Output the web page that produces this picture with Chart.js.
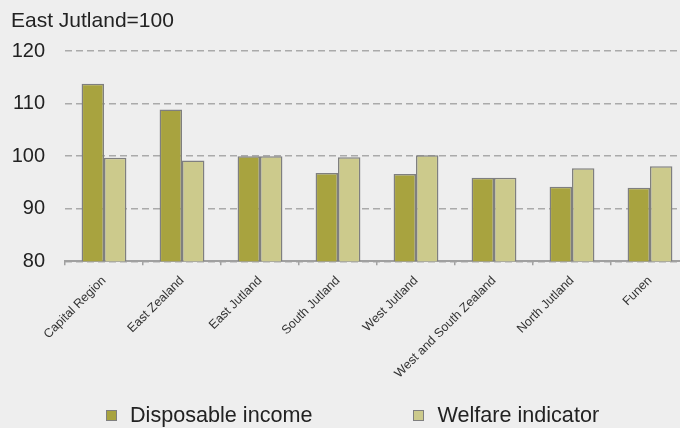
<!DOCTYPE html>
<html>
<head>
<meta charset="utf-8">
<script src="https://cdn.jsdelivr.net/npm/chart.js@4/dist/chart.umd.min.js"></script>
<style>
  html, body { margin: 0; padding: 0; background: #eeeeee; overflow: hidden; }
  #wrap { position: relative; width: 700px; height: 428px; }
  #legend {
    position: absolute; left: 106px; top: 403px; display: flex; align-items: center;
    font-family: 'Liberation Sans', Arial, sans-serif; font-size: 21.6px; line-height: 24px; color: #222;
  }
  .item { display: flex; align-items: center; }
  .swatch { width: 9px; height: 9px; border: 1px solid #7f7f7f; margin-right: 13px; }
</style>
</head>
<body>
<div id="wrap">
  <canvas id="chart" width="700" height="428"></canvas>
  <div id="legend"></div>
</div>
<script>
// Regions, indexed to East Jutland = 100
const regions = ['Capital Region', 'East Zealand', 'East Jutland', 'South Jutland',
  'West Jutland', 'West and South Zealand', 'North Jutland', 'Funen'];
const disposableIncome = [113.8, 108.9, 100, 96.8, 96.6, 95.9, 94.2, 94.0];
const welfareIndicator = [99.7, 99.2, 100, 99.8, 100.2, 95.9, 97.7, 98.1];
const yTicks = [80, 90, 100, 110, 120];

const FONT = 'Liberation Sans';
const series = [
  { label: 'Disposable income', data: disposableIncome, color: '#a8a33f' },
  { label: 'Welfare indicator', data: welfareIndicator, color: '#ccca8c' },
];

new Chart(document.getElementById('chart'), {
  type: 'bar',
  data: {
    labels: regions,
    datasets: series.map((s) => ({
      label: s.label,
      data: s.data,
      backgroundColor: s.color,
      borderColor: '#7f7f7f',
      borderWidth: 1.5,
      categoryPercentage: 0.575,
      barPercentage: 1,
    })),
  },
  options: {
    responsive: false,
    animation: false,
    // rotated labels may hang left of the plot, as in the original
    layout: { autoPadding: false, padding: { left: 11, right: 11, top: 0, bottom: 39 } },
    plugins: {
      legend: { display: false },
      tooltip: { enabled: false },
      title: {
        display: true,
        text: 'East Jutland=100',
        align: 'start',
        color: '#222',
        font: { family: FONT, size: 21, weight: 'normal' },
        padding: { top: 9, bottom: 17 },
      },
    },
    scales: {
      x: {
        grid: { display: true, drawOnChartArea: false, drawTicks: true, tickLength: 4, color: '#a0a0a0', lineWidth: 1.5 },
        border: { display: true, color: '#a0a0a0', width: 2 },
        ticks: {
          minRotation: 45, maxRotation: 45, padding: 8,
          color: '#333', font: { family: FONT, size: 12.5 },
        },
      },
      y: {
        min: 80, max: 120,
        afterBuildTicks: (axis) => { axis.ticks = yTicks.map((v) => ({ value: v })); },
        afterFit: (axis) => { axis.width = 54; },
        grid: { color: '#aaaaaa', lineWidth: 1.5, drawTicks: false },
        border: { display: false, dash: [7, 4] },
        ticks: { padding: 20, color: '#222', font: { family: FONT, size: 20 } },
      },
    },
  },
});

// Legend as plain HTML below the chart
const legend = document.getElementById('legend');
series.forEach((s, i) => {
  const item = document.createElement('div');
  item.className = 'item';
  if (i > 0) item.style.marginLeft = '101px';
  item.innerHTML = `<span class="swatch" style="background:${s.color}"></span><span>${s.label}</span>`;
  legend.appendChild(item);
});
</script>
</body>
</html>
